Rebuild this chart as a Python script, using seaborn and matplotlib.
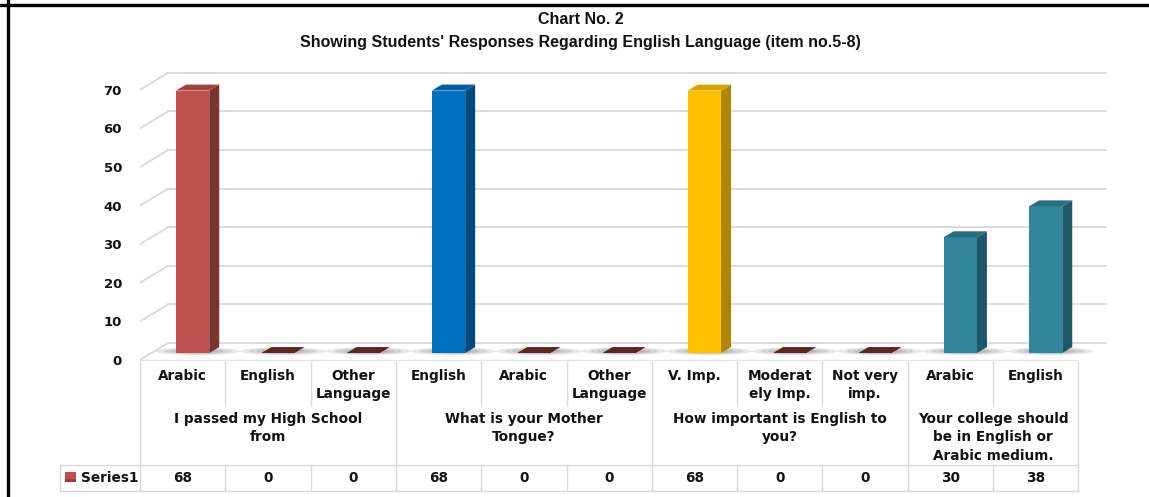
import numpy as np
import pandas as pd
import matplotlib
matplotlib.use("Agg")
import matplotlib.pyplot as plt
import matplotlib.transforms as mtransforms
from matplotlib.patches import Polygon, Ellipse, Rectangle
import seaborn as sns

# ---- data ----
categories = ["Arabic", "English", "Other\nLanguage",
              "English", "Arabic", "Other\nLanguage",
              "V. Imp.", "Moderat\nely Imp.", "Not very\nimp.",
              "Arabic", "English"]
groups = ["I passed my High School\nfrom",
          "What is your Mother\nTongue?",
          "How important is English to\nyou?",
          "Your college should\nbe in English or\nArabic medium."]
group_sizes = [3, 3, 3, 2]
values = [68, 0, 0, 68, 0, 0, 68, 0, 0, 30, 38]
series_name = "Series1"
title_lines = ["Chart No. 2",
               "Showing Students' Responses Regarding English Language (item no.5-8)"]
yticks = list(range(0, 80, 10))

front_colors = ["#C0504D", "#C0504D", "#C0504D", "#0070C0", "#C0504D", "#C0504D",
                "#FFC000", "#C0504D", "#C0504D", "#31859C", "#31859C"]
side_colors = ["#7B3230", "#7B3230", "#7B3230", "#004A80", "#7B3230", "#7B3230",
               "#B08500", "#7B3230", "#7B3230", "#1F5868", "#1F5868"]
top_colors = ["#A5423F", "#A5423F", "#A5423F", "#005C9E", "#A5423F", "#A5423F",
              "#D9A200", "#A5423F", "#A5423F", "#286F82", "#286F82"]
zero_top = "#5E2523"

df = pd.DataFrame({
    "item": [f"{i}:{c}" for i, c in enumerate(categories)],
    "value": values,
})

W, H = 1149, 497
fig = plt.figure(figsize=(W / 100, H / 100), dpi=100)
fig.patch.set_facecolor("white")

# full-figure pixel axes for table, title, frame
bg = fig.add_axes([0, 0, 1, 1])
bg.set_xlim(0, W)
bg.set_ylim(H, 0)
bg.axis("off")
bg.set_zorder(0)

# chart axes (front floor edge at pixel y=360, x from 140)
ax = fig.add_axes([140 / W, (H - 362) / H, 1000 / W, 302 / H])
ax.set_zorder(1)
ax.patch.set_alpha(0)

# depth geometry (in data units)
DX, DY = 0.328, 4.4      # full depth of the 3D box
FX, FY = 0.117, 1.8      # offset of bar front faces
SX, SY = 0.117, 1.55     # bar depth

grid_c = "#D9D9D9"
for v in yticks:
    ax.plot([-0.5, -0.5 + DX], [v, v + DY], color=grid_c, lw=1.3, zorder=0)
    ax.plot([-0.5 + DX, 10.5 + DX], [v + DY, v + DY], color=grid_c, lw=1.3, zorder=0)
ax.plot([-0.5, 10.5], [0, 0], color="#E4E4E4", lw=1.0, zorder=0)

sns.barplot(data=df, x="item", y="value", hue="item",
            palette=dict(zip(df["item"], front_colors)), width=0.39,
            saturation=1, legend=False, edgecolor="none", ax=ax, zorder=3)

bars = sorted([p for p in ax.patches if isinstance(p, Rectangle)], key=lambda p: p.get_x())
for i, p in enumerate(bars):
    x0 = p.get_x() + FX
    w = p.get_width()
    h = p.get_height()
    p.set_x(x0)
    p.set_y(FY)
    cx = x0 + w / 2 + SX / 2
    for ew, eh in [(1.0, 2.0), (0.8, 1.6), (0.62, 1.2), (0.5, 0.9)]:
        ax.add_patch(Ellipse((cx, FY + SY / 2 - 0.3), ew, eh, color="#707070",
                             alpha=0.16, lw=0, zorder=1))
    if h == 0:
        p.set_visible(False)
        ax.add_patch(Polygon([(x0, FY), (x0 + w, FY), (x0 + w + SX, FY + SY), (x0 + SX, FY + SY)],
                             closed=True, color=zero_top, lw=0, zorder=3))
        continue
    ax.add_patch(Polygon([(x0 + w, FY), (x0 + w + SX, FY + SY), (x0 + w + SX, FY + SY + h),
                          (x0 + w, FY + h)], closed=True, color=side_colors[i], lw=0, zorder=3))
    ax.add_patch(Polygon([(x0, FY + h), (x0 + w, FY + h), (x0 + w + SX, FY + h + SY),
                          (x0 + SX, FY + h + SY)], closed=True, color=top_colors[i], lw=0, zorder=3))

ax.set_xlim(-0.5, -0.5 + 1000 / 85.3)
ax.set_ylim(-0.52, 77.72)
ax.set_xticks([])
ax.set_yticks(yticks)
ax.set_yticklabels([str(v) for v in yticks], fontsize=9.5, fontweight="bold", color="#111111")
ax.tick_params(axis="y", length=0, pad=13)
ax.set_xlabel("")
ax.set_ylabel("")
for s in ax.spines.values():
    s.set_visible(False)

# ---- data table below the plot ----
trans = mtransforms.blended_transform_factory(ax.transData, bg.transData)
tc = "#D9D9D9"
txt = "#111111"
n = len(categories)
bounds = np.cumsum([0] + group_sizes) - 0.5
for b in np.arange(-0.5, n, 1.0):
    full = np.any(np.isclose(bounds, b))
    bg.plot([b, b], [362, 491 if full else 405], color=tc, lw=1, transform=trans, clip_on=False)
    if not full:
        bg.plot([b, b], [465, 491], color=tc, lw=1, transform=trans, clip_on=False)
bg.plot([60, 60], [465, 491], color=tc, lw=1)
bg.plot([60, 140], [465, 465], color=tc, lw=1)
bg.plot([60, 140], [491, 491], color=tc, lw=1)
bg.plot([-0.5, n - 0.5], [465, 465], color=tc, lw=1, transform=trans, clip_on=False)
bg.plot([-0.5, n - 0.5], [491, 491], color=tc, lw=1, transform=trans, clip_on=False)

for i, (c, v) in enumerate(zip(categories, values)):
    bg.text(i, 369, c, ha="center", va="top", fontsize=9.8, fontweight="bold",
            color=txt, linespacing=1.4, transform=trans)
    bg.text(i, 478, str(v), ha="center", va="center", fontsize=9.8, fontweight="bold",
            color=txt, transform=trans)
for g, lo, hi in zip(groups, bounds[:-1], bounds[1:]):
    bg.text((lo + hi) / 2, 412, g, ha="center", va="top", fontsize=9.8, fontweight="bold",
            color=txt, linespacing=1.4, transform=trans)

bg.add_patch(Rectangle((65, 472), 11, 10, color="#C0504D", lw=0))
bg.add_patch(Rectangle((65, 479), 11, 3, color="#9A3C3A", lw=0))
bg.text(81, 478, series_name, ha="left", va="center", fontsize=9.8, fontweight="bold", color=txt)

# ---- title ----
title_font = ["Liberation Sans Narrow", "Liberation Sans", "DejaVu Sans"]
bg.text(581, 20, title_lines[0], ha="center", va="center", fontsize=11.5, fontweight="bold",
        family=title_font, color=txt)
bg.text(580, 42, title_lines[1], ha="center", va="center", fontsize=11.5, fontweight="bold",
        family=title_font, color=txt)

# ---- frame of the screenshot ----
bg.plot([7.5, 7.5], [0, H], color="black", lw=2.4)
bg.plot([0, W], [4.5, 4.5], color="black", lw=2.4)

fig.savefig("out.png", dpi=100)
